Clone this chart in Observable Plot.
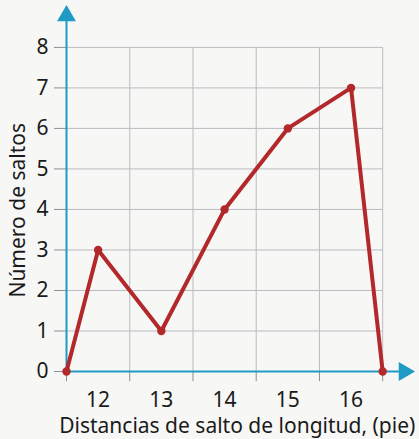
<!DOCTYPE html>
<html><head><meta charset="utf-8">
<script src="https://cdn.jsdelivr.net/npm/d3@7"></script>
<script src="https://cdn.jsdelivr.net/npm/@observablehq/plot@0.6"></script>
<style>
html,body{margin:0;padding:0;background:#f7f7f6;}
#chart svg{display:block;}
</style></head>
<body><div id="chart"></div>
<script>
// Data
const distances = [11.5, 12, 13, 14, 15, 16, 16.5];
const jumps = [0, 3, 1, 4, 6, 7, 0];
const xTickLabels = [12, 13, 14, 15, 16];
const binEdges = [11.5, 12.5, 13.5, 14.5, 15.5, 16.5];
const yTicks = [0, 1, 2, 3, 4, 5, 6, 7, 8];
const xTitle = "Distancias de salto de longitud, (pie)";
const yTitle = "Número de saltos";

const pts = distances.map((d, i) => ({x: d, y: jumps[i]}));
const axisColor = "#1e9ac4";
const lineColor = "#b3282a";
const gridColor = "#b9bcc0";
const font = "'Noto Sans', sans-serif";

const chart = Plot.plot({
  width: 419,
  height: 439,
  marginLeft: 66,
  marginRight: 9,
  marginTop: 8,
  marginBottom: 68,
  style: {background: "#f7f7f6", fontFamily: font, overflow: "visible"},
  x: {type: "linear", domain: [11.5, 16.94], axis: null},
  y: {type: "linear", domain: [0, 8.96], axis: null},
  marks: [
    // grid
    Plot.ruleY(yTicks.filter(d => d > 0), {x1: 11.5, x2: 16.5, stroke: gridColor, strokeWidth: 1}),
    Plot.ruleX(binEdges.slice(1), {y1: 0, y2: 8, stroke: gridColor, strokeWidth: 1}),
    // y tick marks
    Plot.ruleY(yTicks, {x1: 11.31, x2: 11.5, stroke: "#8a8f94", strokeWidth: 1}),
    // x tick marks below axis
    Plot.ruleX(binEdges, {y1: 0, y2: -0.25, stroke: "#8a8f94", strokeWidth: 1}),
    // axes
    Plot.ruleY([0], {x1: 11.5, x2: 16.82, stroke: axisColor, strokeWidth: 2}),
    Plot.ruleX([11.5], {y1: 0, y2: 8.75, stroke: axisColor, strokeWidth: 2}),
    Plot.dot([{x: 16.84, y: 0}], {x: "x", y: "y", symbol: "triangle", r: 7, fill: axisColor, stroke: "none", rotate: 90}),
    Plot.dot([{x: 11.5, y: 8.78}], {x: "x", y: "y", symbol: "triangle", r: 7, fill: axisColor, stroke: "none"}),
    // data line
    Plot.line(pts, {x: "x", y: "y", stroke: lineColor, strokeWidth: 4}),
    Plot.dot(pts, {x: "x", y: "y", r: 4.2, fill: lineColor}),
    // tick labels
    Plot.text(yTicks, {x: () => 11.5, y: d => d, text: d => String(d), dx: -18, textAnchor: "end", fontSize: 21, fill: "#1a1a1a"}),
    Plot.text(xTickLabels, {x: d => d, y: () => 0, text: d => String(d), dy: 29, fontSize: 21, fill: "#1a1a1a"}),
    // titles
    Plot.text([xTitle], {x: () => 14.2, y: () => 0, text: d => d, dy: 55, fontSize: 21, fill: "#1a1a1a"}),
    Plot.text([yTitle], {x: () => 11.5, y: () => 3.98, text: d => d, dx: -48, rotate: -90, fontSize: 21, fill: "#1a1a1a"})
  ]
});
document.getElementById("chart").appendChild(chart);
</script></body></html>
